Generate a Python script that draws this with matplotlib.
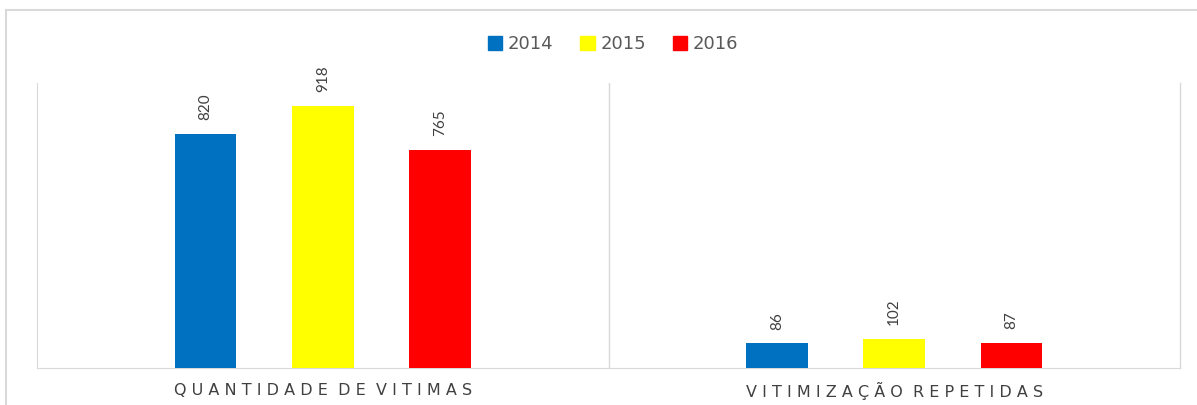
import matplotlib.pyplot as plt
from matplotlib.lines import Line2D
import numpy as np

categories = ['QUANTIDADE DE VITIMAS', 'VITIMIZAÇÃO REPETIDAS']
years = ['2014', '2015', '2016']
v2014 = [820, 86]
v2015 = [918, 102]
v2016 = [765, 87]
colors = ['#0070C0', '#FFFF00', '#FF0000']

series = [v2014, v2015, v2016]


def spaced(s):
    # mimic the wide letter spacing of the category labels
    return '  '.join(' '.join(w) for w in s.split(' '))


fig = plt.figure(figsize=(11.97, 4.05), dpi=100)
ax = fig.add_axes([37 / 1197, 37 / 405, (1180 - 37) / 1197, (368 - 83) / 405])

x = np.arange(len(categories))
width = 0.108
offsets = [-0.205, 0, 0.205]
for vals, off, col, yr in zip(series, offsets, colors, years):
    bars = ax.bar(x + off, vals, width, color=col, label=yr, zorder=3)
    for b, v in zip(bars, vals):
        ax.annotate(str(v), (b.get_x() + b.get_width() / 2, v),
                    xytext=(0, 10), textcoords='offset points',
                    rotation=90, ha='center', va='bottom',
                    fontsize=11, family='Lato', color='#404040')

ax.set_xlim(-0.5, 1.5)
ax.set_ylim(0, 1000)
ax.set_yticks([])
ax.set_xticks([])
for s in ['top', 'right']:
    ax.spines[s].set_visible(False)
ax.spines['left'].set_color('#D9D9D9')
ax.spines['bottom'].set_color('#D9D9D9')
ax.axvline(0.5, color='#D9D9D9', lw=1)
ax.axvline(1.5, color='#D9D9D9', lw=1, clip_on=False)

for xi, cat in zip(x, categories):
    ax.text(xi, -0.08, spaced(cat), transform=ax.get_xaxis_transform(),
            ha='center', va='center', fontsize=11.5, color='#404040')

handles = [plt.Rectangle((0, 0), 1, 1, color=c) for c in colors]
fig.legend(handles, years, loc='center', bbox_to_anchor=(613 / 1197, 1 - 44 / 405),
           ncol=3, frameon=False, fontsize=13, labelcolor='#595959',
           handlelength=0.8, handleheight=0.8, handletextpad=0.3, columnspacing=1.5)

# outer chart frame
fig.add_artist(Line2D([6 / 1197, 6 / 1197], [0, 1 - 10 / 405], color='#D9D9D9', lw=1.5,
                      transform=fig.transFigure))
fig.add_artist(Line2D([6 / 1197, 1], [1 - 10 / 405, 1 - 10 / 405], color='#D9D9D9', lw=1.5,
                      transform=fig.transFigure))

fig.savefig('out.png', dpi=100)
